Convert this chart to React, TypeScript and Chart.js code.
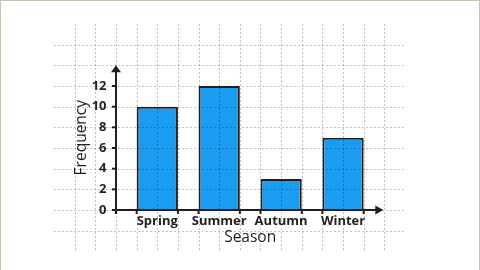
import React, { useEffect, useRef } from 'react';
import { Chart, registerables } from 'chart.js';

Chart.register(...registerables);

const SEASONS = ['Spring', 'Summer', 'Autumn', 'Winter'];
const FREQUENCY = [10, 12, 3, 7];
const Y_TICKS = [0, 2, 4, 6, 8, 10, 12];
const X_TITLE = 'Season';
const Y_TITLE = 'Frequency';

const X_MIN = -2 / 3;
const X_MAX = 11 / 3;
const Y_MIN = 0;
const Y_MAX = 14;

const INK = '#231f20';
const BAR_FILL = '#1b9cf0';
const GRID = 'rgba(0,0,0,0.24)';
const FONT = "'Open Sans', sans-serif";

const gridAndAxes = {
  id: 'gridAndAxes',
  afterDatasetsDraw(chart: any) {
    const { ctx, scales } = chart;
    const x = scales.x;
    const y = scales.y;
    ctx.save();
    ctx.strokeStyle = GRID;
    ctx.lineWidth = 1;
    ctx.setLineDash([2, 2]);
    for (let v = -2; v <= 16; v += 2) {
      const py = Math.round(y.getPixelForValue(v)) + 0.5;
      ctx.beginPath();
      ctx.moveTo(x.getPixelForValue(-5 / 3), py);
      ctx.lineTo(x.getPixelForValue(4), py);
      ctx.stroke();
    }
    for (let k = -4; k <= 11; k++) {
      const px = Math.round(x.getPixelForValue(k / 3)) + 0.5;
      ctx.beginPath();
      ctx.moveTo(px, y.getPixelForValue(18));
      ctx.lineTo(px, y.getPixelForValue(-4));
      ctx.stroke();
    }
    ctx.restore();
  },
  afterDraw(chart: any) {
    const { ctx, scales } = chart;
    const x = scales.x;
    const y = scales.y;
    const ox = x.getPixelForValue(X_MIN);
    const oy = y.getPixelForValue(0);
    const topY = y.getPixelForValue(Y_MAX);
    const rightX = x.getPixelForValue(X_MAX) - 1;
    ctx.save();
    ctx.strokeStyle = INK;
    ctx.fillStyle = INK;
    ctx.lineWidth = 2;
    ctx.lineCap = 'butt';
    ctx.beginPath();
    ctx.moveTo(ox, oy + 1);
    ctx.lineTo(ox, topY + 6);
    ctx.stroke();
    ctx.beginPath();
    ctx.moveTo(ox - 1, oy);
    ctx.lineTo(rightX - 6, oy);
    ctx.stroke();
    Y_TICKS.forEach((v) => {
      const py = y.getPixelForValue(v);
      ctx.beginPath();
      ctx.moveTo(ox - 4, py);
      ctx.lineTo(ox, py);
      ctx.stroke();
    });
    const xt = [X_MIN];
    SEASONS.forEach((_, i) => {
      xt.push(i - 1 / 3, i + 1 / 3);
    });
    xt.forEach((v) => {
      const px = x.getPixelForValue(v);
      ctx.beginPath();
      ctx.moveTo(px, oy);
      ctx.lineTo(px, oy + 4);
      ctx.stroke();
    });
    ctx.beginPath();
    ctx.moveTo(ox, topY);
    ctx.lineTo(ox - 5, topY + 7);
    ctx.lineTo(ox + 5, topY + 7);
    ctx.closePath();
    ctx.fill();
    ctx.beginPath();
    ctx.moveTo(rightX, oy);
    ctx.lineTo(rightX - 8, oy - 4.5);
    ctx.lineTo(rightX - 8, oy + 4.5);
    ctx.closePath();
    ctx.fill();
    ctx.restore();
  },
};

export default function App() {
  const ref = useRef<HTMLCanvasElement | null>(null);

  useEffect(() => {
    if (!ref.current) return;
    const chart = new Chart(ref.current, {
      type: 'bar',
      data: {
        datasets: [
          {
            label: Y_TITLE,
            data: FREQUENCY.map((v, i) => ({ x: i, y: v })),
            backgroundColor: BAR_FILL,
            borderColor: INK,
            borderWidth: 2,
            borderSkipped: 'bottom',
            categoryPercentage: 1,
            barPercentage: 2 / 3,
          },
        ],
      },
      plugins: [gridAndAxes],
      options: {
        animation: false,
        responsive: false,
        devicePixelRatio: 1,
        layout: { padding: { left: 0, top: 65.33, right: 480 - 384.33, bottom: 0 } },
        plugins: { legend: { display: false }, tooltip: { enabled: false } },
        scales: {
          x: {
            type: 'linear',
            min: X_MIN,
            max: X_MAX,
            offset: false,
            grid: { display: false, drawTicks: false },
            border: { display: false },
            afterBuildTicks: (scale: any) => {
              scale.ticks = SEASONS.map((_, i) => ({ value: i }));
            },
            afterFit: (scale: any) => {
              scale.height = 60;
            },
            ticks: {
              z: 1,
              autoSkip: false,
              maxRotation: 0,
              padding: 3,
              color: INK,
              font: { family: FONT, size: 13, weight: 'bold' },
              callback: (v: any) => SEASONS[Math.round(Number(v))] ?? '',
            },
            title: {
              display: true,
              text: X_TITLE,
              color: INK,
              font: { family: FONT, size: 15.5 },
              padding: { top: 0, bottom: 23 },
            },
          },
          y: {
            type: 'linear',
            min: Y_MIN,
            max: Y_MAX,
            grid: { display: false, drawTicks: false },
            border: { display: false },
            afterBuildTicks: (scale: any) => {
              scale.ticks = Y_TICKS.map((v) => ({ value: v }));
            },
            afterFit: (scale: any) => {
              scale.width = 116;
            },
            ticks: {
              z: 1,
              padding: 9.5,
              color: INK,
              font: { family: FONT, size: 13, weight: 'bold' },
            },
            title: {
              display: true,
              text: Y_TITLE,
              color: INK,
              font: { family: FONT, size: 15.5 },
              padding: { top: 72.4, bottom: 0 },
            },
          },
        },
      },
    });
    return () => chart.destroy();
  }, []);

  return (
    <div style={{ position: 'absolute', left: 0, top: 0, width: 480, height: 270, background: '#fff' }}>
      <canvas ref={ref} width={480} height={270} style={{ display: 'block' }} />
      <div
        style={{
          position: 'absolute',
          left: 0,
          top: 0,
          width: 480,
          height: 270,
          boxSizing: 'border-box',
          borderTop: '1px solid #c9c5b9',
          borderLeft: '1px solid #c9c5b9',
          borderRight: '1px solid #c9c5b9',
          pointerEvents: 'none',
        }}
      />
    </div>
  );
}
